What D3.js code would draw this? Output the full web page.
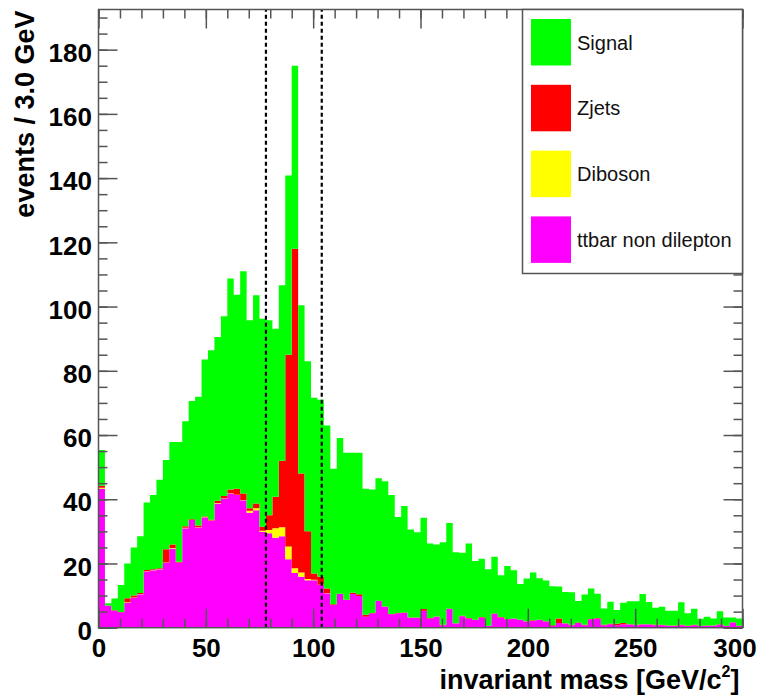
<!DOCTYPE html>
<html>
<head>
<meta charset="utf-8">
<script src="https://cdn.jsdelivr.net/npm/d3@7"></script>
<style>
  html, body { margin: 0; padding: 0; background: #fff; }
  svg { display: block; }
  text { font-family: "Liberation Sans", Arial, Helvetica, sans-serif; }
</style>
</head>
<body>
<svg id="chart" width="762" height="696"></svg>
<script>
// Invariant mass histogram, 3 GeV bins from 0 to 300 GeV
const massRange = [0, 300];
const binWidth = 3.0;
const xTickLabels = [0, 50, 100, 150, 200, 250, 300];
const yTickLabels = [0, 20, 40, 60, 80, 100, 120, 140, 160, 180];
const massWindow = [78, 104];

const seriesNames = ["ttbar non dilepton", "Diboson", "Zjets", "Signal"];
const seriesColors = ["#ff00ff", "#ffff00", "#ff0000", "#00ff00"];
const legendOrder = ["Signal", "Zjets", "Diboson", "ttbar non dilepton"];

// events per bin, one array per sample
const ttbar = [
  43.3, 6.8, 5.3, 4.8, 7.8, 9.3, 10.4, 17.5, 17.9, 18.2,
  20.2, 24.7, 20.3, 31.0, 33.5, 31.2, 34.3, 33.3, 38.7, 40.2,
  41.8, 41.3, 39.7, 35.8, 36.6, 29.9, 29.4, 28.0, 28.5, 21.3,
  17.0, 15.9, 14.8, 14.8, 13.3, 10.7, 7.1, 10.5, 8.6, 10.5,
  9.9, 3.4, 4.5, 8.3, 6.5, 4.2, 4.5, 4.6, 3.1, 3.1,
  5.3, 2.9, 3.4, 0.8, 5.8, 1.3, 3.6, 2.9, 2.4, 3.2,
  0.5, 4.3, 3.2, 2.6, 2.8, 2.4, 1.9, 2.2, 2.4, 1.9,
  0.5, 1.5, 1.3, 0.8, 1.5, 0.8, 2.6, 2.9, 0.8, 1.1,
  0.8, 1.1, 1.0, 0.8, 1.0, 1.0, 0.8, 0.8, 0.6, 0.6,
  0.8, 0.5, 0.8, 0.5, 0.6, 0.6, 1.0, 0.5, 1.6, 0.5
];
const diboson = [
  0.3, 0, 0, 0, 0.1, 0.1, 0.1, 0.1, 0.1, 0.1,
  0.1, 0.1, 0, 0.1, 0, 0.1, 0.1, 0.1, 0.1, 0.1,
  0.1, 0.1, 0.1, 0.6, 0.6, 0.3, 1.0, 3.0, 2.8, 4.0,
  1.5, 1.3, 0.4, 0.1, 0.1, 0.1, 0, 0, 0, 0,
  0, 0, 0, 0, 0, 0, 0, 0, 0, 0,
  0, 0, 0, 0, 0, 0, 0, 0, 0, 0,
  0, 0, 0, 0, 0, 0, 0, 0, 0, 0,
  0, 0, 0, 0, 0, 0, 0, 0, 0, 0,
  0, 0, 0, 0, 0, 0, 0, 0, 0, 0,
  0, 0, 0, 0, 0, 0, 0, 0, 0, 0
];
const zjets = [
  0.6, 0.1, 0.1, 0.1, 1.3, 0.6, 0.3, 0.4, 0.2, 0.2,
  4.1, 1.1, 0.2, 0.5, 0.3, 0.5, 0.2, 0.2, 0.7, 0.7,
  1.1, 1.9, 2.0, 0.8, 1.5, 1.2, 4.6, 9.8, 20.7, 59.7,
  99.5, 30.8, 14.8, 2.0, 2.5, 1.4, 0.2, 0.1, 0.1, 0.4,
  0.5, 0.6, 0.1, 0.1, 0.1, 0.1, 0.1, 0.1, 0.1, 0.1,
  0.5, 0.1, 0.1, 0.1, 0.1, 0.1, 0.1, 0.1, 0.1, 0.1,
  0.1, 0.1, 0.1, 0.1, 0.1, 0.1, 0.1, 0.1, 0.1, 0.1,
  0.3, 1.4, 0.1, 0.1, 0.1, 0.1, 0.1, 0.1, 0.1, 0.1,
  0.4, 0.4, 0.1, 0.1, 0.1, 0.1, 0.1, 0.1, 0.1, 0.1,
  0.1, 0.1, 0.1, 0.1, 0.1, 0.1, 0.1, 0.1, 0.1, 0.1
];
const signal = [
  11.1, 0.7, 3.7, 8.4, 10.8, 15.0, 17.7, 21.0, 23.1, 27.6,
  27.8, 31.9, 37.3, 32.7, 36.8, 40.1, 48.9, 52.8, 51.0, 56.0,
  65.7, 60.4, 69.2, 58.5, 64.8, 64.8, 60.7, 52.3, 54.6, 55.8,
  57.0, 52.4, 53.0, 54.7, 55.1, 50.8, 42.2, 48.5, 45.8, 43.6,
  44.1, 39.3, 38.4, 38.1, 39.0, 37.0, 29.9, 33.2, 27.4, 26.5,
  28.4, 23.2, 22.4, 25.7, 26.7, 22.1, 19.6, 23.2, 18.3, 18.2,
  17.6, 17.7, 13.0, 16.5, 15.0, 11.1, 13.3, 14.9, 12.9, 12.7,
  12.1, 9.9, 9.7, 10.1, 6.7, 9.4, 9.5, 7.6, 5.1, 6.9,
  4.3, 6.3, 7.1, 7.3, 9.4, 6.9, 5.3, 5.6, 4.6, 4.6,
  7.0, 3.9, 5.0, 2.2, 2.7, 2.2, 4.0, 2.6, 1.5, 2.3
];

const svg = d3.select("#chart");
const frame = { left: 98.5, right: 742.5, top: 9.5, bottom: 627.7 };
const axisColor = "#555";

const x = d3.scaleLinear().domain(massRange).range([frame.left, frame.right]);
const yMax = 1.1 * d3.max(d3.range(signal.length), i => ttbar[i] + diboson[i] + zjets[i] + signal[i]);
const y = d3.scaleLinear().domain([0, yMax]).range([frame.bottom, frame.top]);

// one record per bin, stacked bottom to top
const bins = ttbar.map((_, i) => ({
  lo: massRange[0] + i * binWidth,
  "ttbar non dilepton": ttbar[i],
  "Diboson": diboson[i],
  "Zjets": zjets[i],
  "Signal": signal[i]
}));
const stacked = d3.stack().keys(seriesNames)(bins);

const area = d3.area()
  .x(d => x(d.x))
  .y0(d => y(d.y0))
  .y1(d => y(d.y1))
  .curve(d3.curveStepAfter);

const gHist = svg.append("g");
stacked.forEach((layer, k) => {
  const pts = layer.map(d => ({ x: d.data.lo, y0: d[0], y1: d[1] }));
  const last = layer[layer.length - 1];
  pts.push({ x: last.data.lo + binWidth, y0: last[0], y1: last[1] });
  gHist.append("path")
    .attr("d", area(pts))
    .attr("fill", seriesColors[k])
    .attr("stroke", "none");
});

// mass window cut lines
svg.append("g").selectAll("line").data(massWindow).join("line")
  .attr("x1", d => x(d)).attr("x2", d => x(d))
  .attr("y1", frame.bottom).attr("y2", frame.top)
  .attr("stroke", "#000").attr("stroke-width", 2.2)
  .attr("stroke-dasharray", "4,3");

// axes with inward ticks on all four sides
const majorLen = 19, minorLen = 9;
const xMinor = d3.range(massRange[0], massRange[1] + 0.001, 10);
const yMinor = d3.range(0, yMax, 5);

function styleAxis(g) {
  g.selectAll("path.domain").remove();
  g.selectAll(".tick line").attr("stroke", axisColor).attr("stroke-width", 1.5);
}

// bottom
svg.append("g").attr("transform", `translate(0,${frame.bottom})`)
  .call(d3.axisBottom(x).tickValues(xMinor).tickSize(-minorLen).tickFormat(""))
  .call(styleAxis);
const gxb = svg.append("g").attr("transform", `translate(0,${frame.bottom})`)
  .call(d3.axisBottom(x).tickValues(xTickLabels).tickSize(-majorLen).tickPadding(11).tickFormat(d3.format("d")))
  .call(styleAxis);
gxb.selectAll(".tick text")
  .attr("fill", "#000").attr("font-size", 26).attr("font-weight", "bold")
  .attr("dx", d => d === massRange[1] ? -8 : 0);

// top
svg.append("g").attr("transform", `translate(0,${frame.top})`)
  .call(d3.axisTop(x).tickValues(xMinor).tickSize(-minorLen).tickFormat(""))
  .call(styleAxis);
svg.append("g").attr("transform", `translate(0,${frame.top})`)
  .call(d3.axisTop(x).tickValues(xTickLabels).tickSize(-majorLen).tickFormat(""))
  .call(styleAxis);

// left
svg.append("g").attr("transform", `translate(${frame.left},0)`)
  .call(d3.axisLeft(y).tickValues(yMinor).tickSize(-minorLen).tickFormat(""))
  .call(styleAxis);
const gyl = svg.append("g").attr("transform", `translate(${frame.left},0)`)
  .call(d3.axisLeft(y).tickValues(yTickLabels).tickSize(-majorLen).tickPadding(6.5).tickFormat(d3.format("d")))
  .call(styleAxis);
gyl.selectAll(".tick text")
  .attr("fill", "#000").attr("font-size", 26).attr("font-weight", "bold")
  .attr("dy", "0.45em");

// right
svg.append("g").attr("transform", `translate(${frame.right},0)`)
  .call(d3.axisRight(y).tickValues(yMinor).tickSize(-minorLen).tickFormat(""))
  .call(styleAxis);
svg.append("g").attr("transform", `translate(${frame.right},0)`)
  .call(d3.axisRight(y).tickValues(yTickLabels).tickSize(-majorLen).tickFormat(""))
  .call(styleAxis);

// frame
svg.append("rect")
  .attr("x", frame.left).attr("y", frame.top)
  .attr("width", frame.right - frame.left).attr("height", frame.bottom - frame.top)
  .attr("fill", "none").attr("stroke", axisColor).attr("stroke-width", 1.5);

// axis titles
svg.append("text")
  .attr("transform", `translate(33.5,${frame.top + 1}) rotate(-90)`)
  .attr("text-anchor", "end")
  .attr("font-size", 27).attr("font-weight", "bold")
  .text("events / 3.0 GeV");

const xt = svg.append("text")
  .attr("x", frame.right - 3).attr("y", 689)
  .attr("text-anchor", "end")
  .attr("font-size", 27).attr("font-weight", "bold");
xt.append("tspan").text("invariant mass [GeV/c");
xt.append("tspan").attr("font-size", 16).attr("dy", -12).text("2");
xt.append("tspan").attr("dy", 12).text("]");

// legend
const legend = { x: 522.5, y: frame.top, w: frame.right - 522.5, h: 264 };
svg.append("rect")
  .attr("x", legend.x).attr("y", legend.y).attr("width", legend.w).attr("height", legend.h)
  .attr("fill", "#fff").attr("stroke", axisColor).attr("stroke-width", 1.5);
const pitch = 65.8;
const gl = svg.append("g").selectAll("g").data(legendOrder).join("g")
  .attr("transform", (d, i) => `translate(0,${19 + i * pitch})`);
gl.append("rect")
  .attr("x", 531).attr("y", 0).attr("width", 40).attr("height", 46.5)
  .attr("fill", d => seriesColors[seriesNames.indexOf(d)]);
gl.append("text")
  .attr("x", 577).attr("y", 23.5).attr("dy", "0.35em")
  .attr("font-size", 20).attr("fill", "#111")
  .text(d => d);
</script>
</body>
</html>
